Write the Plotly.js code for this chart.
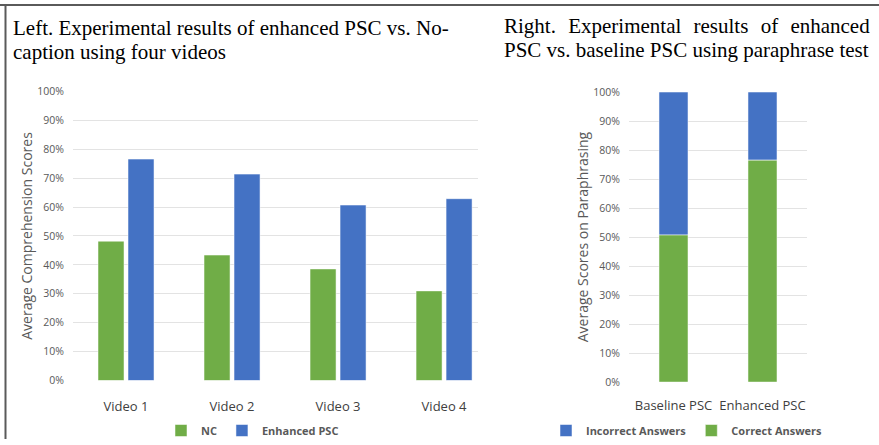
<!DOCTYPE html>
<html>
<head>
<meta charset="utf-8">
<script src="https://cdn.plot.ly/plotly-3.0.1.min.js"></script>
<style>html,body{margin:0;padding:0;background:#fff;}#chart{width:879px;height:445px;}</style>
</head>
<body>
<div id="chart"></div>
<script>
// ---- data (percent) ----
const videos = ['Video 1', 'Video 2', 'Video 3', 'Video 4'];
const ncScores = [48.2, 43.4, 38.6, 31.0];
const enhancedScores = [76.6, 71.4, 60.7, 62.9];

const pscVersions = ['Baseline PSC', 'Enhanced PSC'];
const correctAnswers = [50.7, 76.5];
const incorrectAnswers = [49.3, 23.5];

const yTicks = [0, 10, 20, 30, 40, 50, 60, 70, 80, 90, 100];
const yTickText = yTicks.map(v => v + '%');

const GREEN = '#70AD47';
const BLUE = '#4472C4';
const W = 879, H = 445;
const px = v => v / W;
const py = v => 1 - v / H;

const edge = {color: 'rgba(255,255,255,0.5)', width: 1};
const traces = [
  {type: 'bar', x: videos, y: ncScores, name: 'NC', xaxis: 'x', yaxis: 'y', legend: 'legend',
   marker: {color: GREEN, line: edge}, hoverinfo: 'y'},
  {type: 'bar', x: videos, y: enhancedScores, name: 'Enhanced PSC', xaxis: 'x', yaxis: 'y', legend: 'legend',
   marker: {color: BLUE, line: edge}, hoverinfo: 'y'},
  {type: 'bar', x: pscVersions, y: incorrectAnswers, base: correctAnswers, name: 'Incorrect Answers',
   xaxis: 'x2', yaxis: 'y2', legend: 'legend2', width: 0.326, offset: -0.163,
   marker: {color: BLUE, line: edge}, hoverinfo: 'y'},
  {type: 'bar', x: pscVersions, y: correctAnswers, name: 'Correct Answers',
   xaxis: 'x2', yaxis: 'y2', legend: 'legend2', width: 0.326, offset: -0.163,
   marker: {color: GREEN, line: edge}, hoverinfo: 'y'}
];

const tickFont = {family: 'Open Sans, sans-serif', size: 10.5, color: '#595959'};
const catFont = {family: 'Open Sans, sans-serif', size: 13, color: '#404040'};
const axTitleFont = {family: 'Open Sans, sans-serif', size: 14, color: '#595959'};
const titleFont = {family: 'Liberation Serif, Times New Roman, serif', size: 21, color: '#000'};

const yBase = {
  range: [0, 100], tickvals: yTicks, ticktext: yTickText, tickfont: tickFont,
  showgrid: true, gridcolor: '#e3e3e3', gridwidth: 1, zeroline: false, showline: false,
  ticks: '', ticklabelstandoff: 8, fixedrange: true
};

const legendFont = {family: 'Open Sans, sans-serif', size: 11, color: '#595959', weight: 'bold'};
const GAP = '\u00A0\u00A0\u200A';

const layout = {
  width: W, height: H,
  margin: {l: 0, r: 0, t: 0, b: 0},
  paper_bgcolor: '#fff', plot_bgcolor: '#fff',
  barmode: 'group', bargap: 0.434, bargroupgap: 0.133,
  showlegend: true,
  xaxis: {domain: [px(73), px(478)], range: [-0.5, 3.32], tickfont: catFont, showgrid: false,
          zeroline: false, showline: false, ticks: '', ticklabelstandoff: 17, fixedrange: true},
  yaxis: Object.assign({}, yBase, {domain: [py(385.7), py(92.7)],
          title: {text: 'Average Comprehension Scores', font: axTitleFont, standoff: 1}}),
  xaxis2: {domain: [px(629), px(807)], range: [-0.5, 1.5], tickfont: catFont, showgrid: false,
           zeroline: false, showline: false, ticks: '', ticklabelstandoff: 14, fixedrange: true, anchor: 'y2'},
  yaxis2: Object.assign({}, yBase, {domain: [py(387.3), py(93.3)], anchor: 'x2',
          title: {text: 'Average Scores on Paraphrasing', font: axTitleFont, standoff: 1}}),
  legend: {orientation: 'h', x: px(161), y: py(422), xanchor: 'left', yanchor: 'top',
           font: legendFont, itemwidth: 30, bgcolor: 'rgba(0,0,0,0)', traceorder: 'normal'},
  legend2: {orientation: 'h', x: px(546), y: py(422), xanchor: 'left', yanchor: 'top',
           font: legendFont, itemwidth: 30, bgcolor: 'rgba(0,0,0,0)', traceorder: 'normal'},
  annotations: [
    {xref: 'paper', yref: 'paper', x: px(11), y: py(43), xanchor: 'left', yanchor: 'bottom', align: 'left',
     showarrow: false, text: 'Left. Experimental results of enhanced PSC vs. No-', font: titleFont},
    {xref: 'paper', yref: 'paper', x: px(11), y: py(67), xanchor: 'left', yanchor: 'bottom', align: 'left',
     showarrow: false, text: 'caption using four videos', font: titleFont},
    {xref: 'paper', yref: 'paper', x: px(502), y: py(41), xanchor: 'left', yanchor: 'bottom', align: 'left',
     showarrow: false,
     text: 'Right.' + GAP + 'Experimental' + GAP + 'results' + GAP + 'of' + GAP + 'enhanced', font: titleFont},
    {xref: 'paper', yref: 'paper', x: px(502), y: py(65), xanchor: 'left', yanchor: 'bottom', align: 'left',
     showarrow: false, text: 'PSC vs. baseline PSC using paraphrase test', font: titleFont}
  ],
  shapes: [
    {type: 'line', xref: 'paper', yref: 'paper', x0: 0, x1: 1, y0: py(5), y1: py(5),
     line: {color: '#5a5a5a', width: 2}},
    {type: 'line', xref: 'paper', yref: 'paper', x0: px(5.5), x1: px(5.5), y0: 0, y1: py(5),
     line: {color: '#5a5a5a', width: 2}}
  ]
};

Plotly.newPlot('chart', traces, layout, {displayModeBar: false, staticPlot: true});
</script>
</body>
</html>
